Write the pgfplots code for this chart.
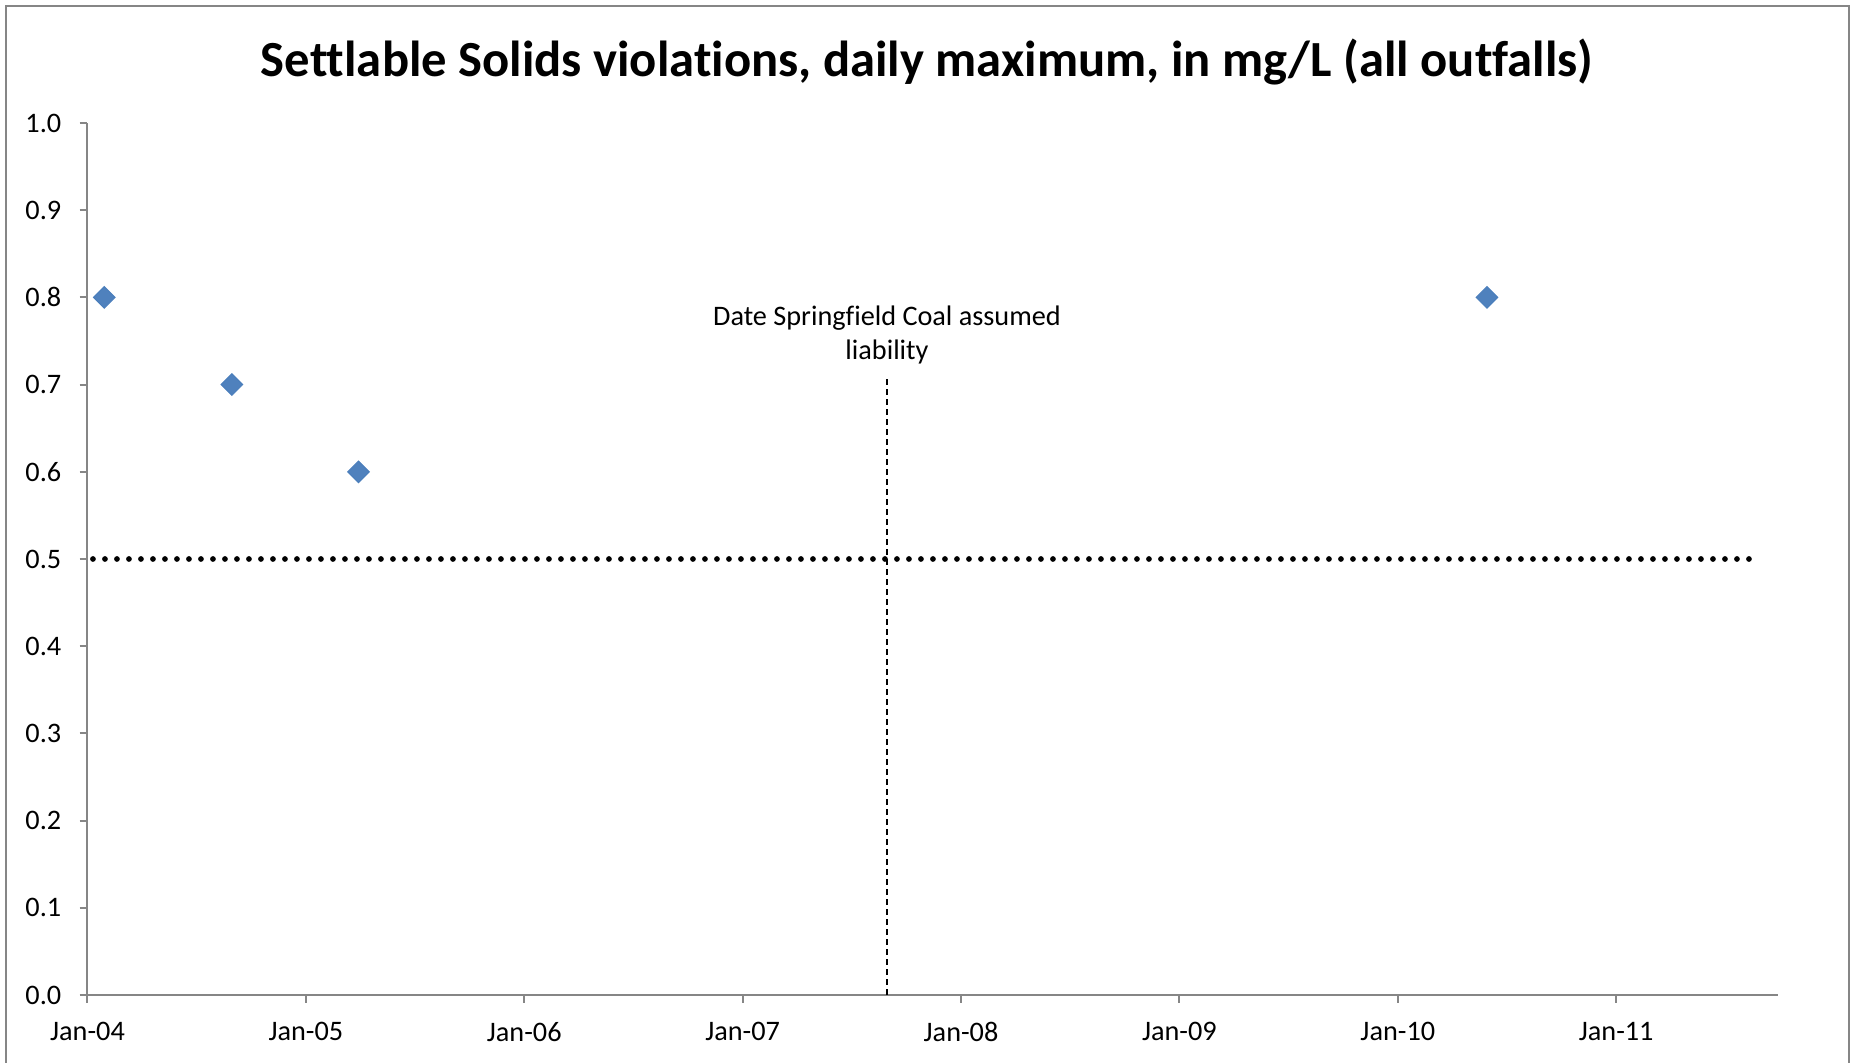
\documentclass[border=0pt]{standalone}
\usepackage{fontspec}
\setmainfont[Ligatures=NoCommon]{Carlito}
\usepackage{pgfplots}
\pgfplotsset{compat=1.18}
\definecolor{axgray}{HTML}{868686}
\definecolor{mblue}{HTML}{4F81BD}
\definecolor{mbord}{HTML}{4A7EBB}
\begin{document}
\begin{tikzpicture}
\useasboundingbox (0,0) rectangle (742pt,425.2pt);
\draw[axgray, line width=0.8pt] (2.4pt,-5pt) rectangle (739.6pt,422.8pt);
\node[anchor=base, font=\fontsize{20.25}{24}\selectfont\bfseries, inner sep=0pt] at (370.8pt,394.4pt)
  {Settlable Solids violations, daily maximum, in mg/L (all outfalls)};
\begin{axis}[
  at={(35pt,27.2pt)}, anchor=south west,
  scale only axis, width=676.2pt, height=348.8pt,
  xmin=2004, xmax=2011.741, ymin=0, ymax=1,
  axis x line=bottom, axis y line=left,
  axis line style={-, axgray, line width=0.8pt},
  tick style={axgray, line width=0.8pt},
  tick align=outside, major tick length=3.2pt,
  xtick={2004,2005,2006,2007,2008,2009,2010,2011},
  xticklabels={Jan-04,Jan-05,Jan-06,Jan-07,Jan-08,Jan-09,Jan-10,Jan-11},
  ytick={0,0.1,0.2,0.3,0.4,0.5,0.6,0.7,0.8,0.9,1.0},
  yticklabel style={xshift=-3.8pt, /pgf/number format/fixed, /pgf/number format/fixed zerofill,
    /pgf/number format/precision=1, /pgf/number format/assume math mode=true},
  tick label style={font=\fontsize{11.3}{13}\selectfont, black},
  xticklabel style={yshift=-4.3pt},
  clip=false,
]
\addplot[only marks, mark=square*, mark size=3.05pt,
  mark options={rotate=45, fill=mblue, draw=mbord, line width=0.4pt}]
  coordinates {(2004.077,0.8) (2004.661,0.7) (2005.241,0.6) (2010.408,0.8)};
\addplot[black, line width=2.3pt, line cap=round, dash pattern=on 0pt off 4.8pt]
  coordinates {(2004.025,0.5) (2011.625,0.5)};
\addplot[black, line width=0.8pt, dash pattern=on 2.3pt off 1.7pt]
  coordinates {(2007.661,0.706) (2007.661,0)};
\node[anchor=base, font=\fontsize{11.3}{13}\selectfont, inner sep=0pt] at (axis cs:2007.661,0.768) {Date Springfield Coal assumed};
\node[anchor=base, font=\fontsize{11.3}{13}\selectfont, inner sep=0pt] at (axis cs:2007.661,0.729) {liability};
\end{axis}
\end{tikzpicture}
\end{document}
